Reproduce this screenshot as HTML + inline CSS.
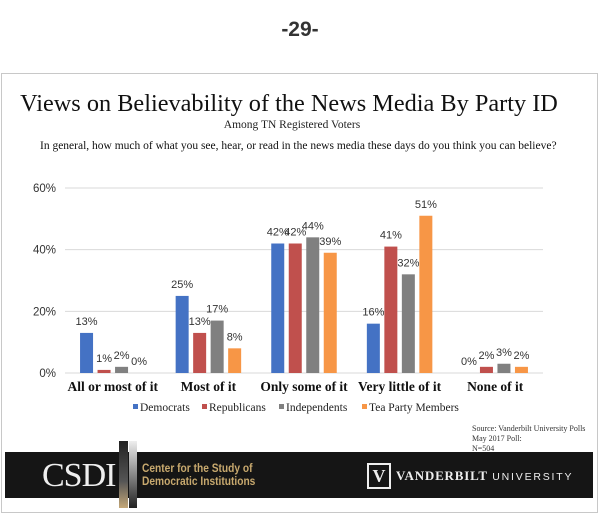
<!DOCTYPE html>
<html><head><meta charset="utf-8"><style>
body{margin:0;background:#fff;width:600px;height:519px;overflow:hidden;position:relative;font-family:"Liberation Sans",sans-serif}
.abs{position:absolute}
</style></head><body>
<div class="abs" style="left:0;width:600px;top:18px;text-align:center;font:bold 21px 'Liberation Sans',sans-serif;color:#333">-29-</div>
<div class="abs" style="left:1px;top:73px;width:595px;height:438px;border:1px solid #c8c8c8"></div>
<div class="abs" style="left:0;width:578px;top:90px;text-align:center;font:24.3px 'Liberation Serif',serif;color:#111;white-space:nowrap">Views on Believability of the News Media By Party ID</div>
<div class="abs" style="left:0;width:584px;top:119px;text-align:center;font:11.5px 'Liberation Serif',serif;color:#222">Among TN Registered Voters</div>
<div class="abs" style="left:40px;top:140px;font:11.5px 'Liberation Serif',serif;color:#111;white-space:nowrap">In general, how much of what you see, hear, or read in the news media these days do you think you can believe?</div>
<svg class="abs" style="left:0;top:0" width="600" height="519" id="chart"></svg>
<div class="abs" style="left:472px;top:424px;font:8px/10px 'Liberation Serif',serif;color:#333">Source: Vanderbilt University Polls<br>May 2017 Poll:<br>N=504</div>
<div class="abs" style="left:5px;top:452px;width:588px;height:46px;background:#151515"></div>
<div class="abs" style="left:42px;top:457px;font:34px 'Liberation Serif',serif;color:#eee;letter-spacing:-1px">CSDI</div>
<div class="abs" style="left:119px;top:441px;width:9px;height:67px;background:linear-gradient(#222,#555 60%,#c4a878)"></div>
<div class="abs" style="left:129px;top:441px;width:8px;height:67px;background:linear-gradient(#eee,#888 50%,#222)"></div>
<div class="abs" style="left:142px;top:462px;font:bold 12px/13px 'Liberation Sans',sans-serif;color:#c8a96e;transform:scaleX(0.85);transform-origin:left;white-space:nowrap">Center for the Study of<br>Democratic Institutions</div>
<div class="abs" style="left:367px;top:463px;width:20px;height:22px;border:2px solid #eee;color:#eee;font:bold 18px/22px 'Liberation Serif',serif;text-align:center">V</div>
<div class="abs" style="left:396px;top:467px;color:#eee;white-space:nowrap"><span style="font:bold 13px 'Liberation Serif',serif;letter-spacing:0.8px">VANDERBILT</span> <span style="font:10.5px 'Liberation Sans',sans-serif;letter-spacing:1.8px">UNIVERSITY</span></div>
<script>
const categories=["All or most of it","Most of it","Only some of it","Very little of it","None of it"];
const seriesNames=["Democrats","Republicans","Independents","Tea Party Members"];
const democrats=[13,25,42,16,0];
const republicans=[1,13,42,41,2];
const independents=[2,17,44,32,3];
const teaParty=[0,8,39,51,2];
const yTicks=[0,20,40,60];
const colors=["#4472c4","#c0504d","#808080","#f79646"];
const series=[democrats,republicans,independents,teaParty];
const svg=document.getElementById('chart');
const NS='http://www.w3.org/2000/svg';
const x0=65,x1=543,y0=373,yTop=188,yMax=60;
const y=v=>y0-(v/yMax)*(y0-yTop);
const band=(x1-x0)/categories.length;
const bw=13,step=17.5;
const xBar=(c,s)=>x0+band*c+band/2-(step*1.5+bw/2)+s*step;
function mk(t,a){const e=document.createElementNS(NS,t);for(const k in a)e.setAttribute(k,a[k]);svg.appendChild(e);return e;}
yTicks.forEach(t=>{
  const l=mk('line',{x1:x0,x2:x1,y1:y(t),y2:y(t),stroke:'#d9d9d9','stroke-width':1});
  
  
  const tx=mk('text',{x:56,y:y(t)+4,'text-anchor':'end','font-size':11.5,fill:'#333','font-family':'Liberation Sans,sans-serif'});
  tx.textContent=t+'%';
  
  
});
categories.forEach((c,ci)=>{
  series.forEach((arr,si)=>{
    const v=arr[ci];const bx=xBar(ci,si);
    const r=mk('rect',{x:bx,y:y(v),width:bw,height:y0-y(v),fill:colors[si]});
    
    
    const tx=mk('text',{x:bx+bw/2,y:y(v)-8,'text-anchor':'middle','font-size':11,fill:'#333','font-family':'Liberation Sans,sans-serif'});
    tx.textContent=v+'%';
    
    
  });
  const cl=mk('text',{x:x0+band*ci+band/2,y:391,'text-anchor':'middle','font-size':13.5,'font-weight':'bold',fill:'#111','font-family':'Liberation Serif,serif'});
  cl.textContent=c;
  
  
});
const legX=[133,202,279,362];
seriesNames.forEach((n,i)=>{
  const r=mk('rect',{x:legX[i],y:404,width:5,height:5,fill:colors[i]});
  
  
  const tx=mk('text',{x:legX[i]+7,y:411,'font-size':11.5,fill:'#222','font-family':'Liberation Serif,serif'});
  tx.textContent=n;
  
  
});
</script>
</body></html>
